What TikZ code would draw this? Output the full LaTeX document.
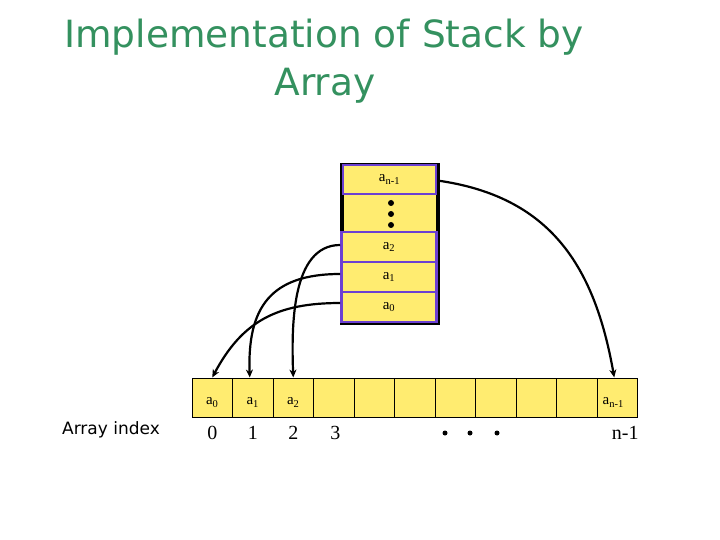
\documentclass[tikz,border=0pt]{standalone}
\usepackage{fontspec}
\setmainfont{Liberation Serif}
\newfontfamily\comicfont{DejaVu Sans}
\usepackage{tikz}
\usetikzlibrary{arrows.meta,positioning}
\definecolor{cellyellow}{RGB}{255,236,112}
\definecolor{stackpurple}{RGB}{108,64,210}
\definecolor{titlegreen}{RGB}{52,145,95}
\newcommand{\elem}[1]{a\textsubscript{#1}}
\tikzset{
    stackcell/.style={
        draw=stackpurple,
        line width=2.6pt,
        fill=cellyellow,
        minimum width=95pt,
        minimum height=30pt,
        inner sep=0pt,
        font=\fontsize{15}{17}\selectfont
    },
    arrcell/.style={
        draw=black,
        line width=1pt,
        fill=cellyellow,
        minimum width=40.5pt,
        minimum height=39pt,
        inner sep=0pt
    },
    % arrows from the stack down into the array
    pusharrow/.style={
        line width=2.2pt,
        black,
        ->,
        >={Stealth[length=8pt, width=7pt]}
    },
    idx/.style={font=\fontsize{20}{22}\selectfont}
}

\begin{document}
\begin{tikzpicture}[x=1pt, y=-1pt]
        \useasboundingbox (0,0) rectangle (720,540);

        \node[titlegreen,font=\comicfont\fontsize{37.5}{42}\selectfont] (title1) at (324,37) {Implementation of Stack by};
        \node[titlegreen,font=\comicfont\fontsize{37.5}{42}\selectfont] (title2) at (325,86) {Array};

        % the stack
        \fill[black] (340,163) rectangle (440,325);
        \fill[cellyellow] (344,195) rectangle (436,232);
        \node[stackcell, minimum width=93pt, minimum height=29pt] (top) at (389.5,179.5) {\elem{n-1}};
        \node[stackcell] (s2) at (389,247) {\elem{2}};
        \node[stackcell] (s1) at (389,277) {\elem{1}};
        \node[stackcell] (s0) at (389,307) {\elem{0}};
        \foreach \y in {203,214,225}
            \fill (391,\y) circle (3);

        % the array
        \foreach \i in {0,...,10}
            \node[arrcell] (c\i) at ({212.25+40.5*\i},397.5) {};
        \node[font=\fontsize{15}{17}\selectfont] at ([yshift=-5pt]c0.center) {\elem{0}};
        \node[font=\fontsize{15}{17}\selectfont] at ([yshift=-5pt]c1.center) {\elem{1}};
        \node[font=\fontsize{15}{17}\selectfont] at ([yshift=-5pt]c2.center) {\elem{2}};
        \node[font=\fontsize{15}{17}\selectfont] at ([xshift=-4pt,yshift=-5pt]c10.center) {\elem{n-1}};

        \node[font=\comicfont\fontsize{17}{19}\selectfont] (label) at (111,430) {Array index};
        \node[idx] (i0) at ([yshift=-35.5pt]c0.center) {0};
        \node[idx] (i1) at ([yshift=-35.5pt]c1.center) {1};
        \node[idx] (i2) at ([yshift=-35.5pt]c2.center) {2};
        \node[idx] (i3) at ([xshift=1.5pt,yshift=-35.5pt]c3.center) {3};
        \node[idx] (in) at ([xshift=8pt,yshift=-35.5pt]c10.center) {n-1};
        \foreach \x in {445,470,497}
            \fill (\x,433) circle (2.5);

        \draw[pusharrow] ([yshift=4pt]s0.west) to[out=180, in=62, looseness=1.1] (c0.north);
        \draw[pusharrow] ([yshift=3pt]s1.west) to[out=180, in=92, looseness=1.3] ([xshift=-3pt]c1.north);
        \draw[pusharrow] ([yshift=2pt]s2.west) to[out=180, in=92, looseness=0.9] (c2.north);
        \draw[pusharrow] ([yshift=-1pt]top.east) to[out=-8, in=100, looseness=1.1] ([xshift=-3pt]c10.north);
\end{tikzpicture}
\end{document}
